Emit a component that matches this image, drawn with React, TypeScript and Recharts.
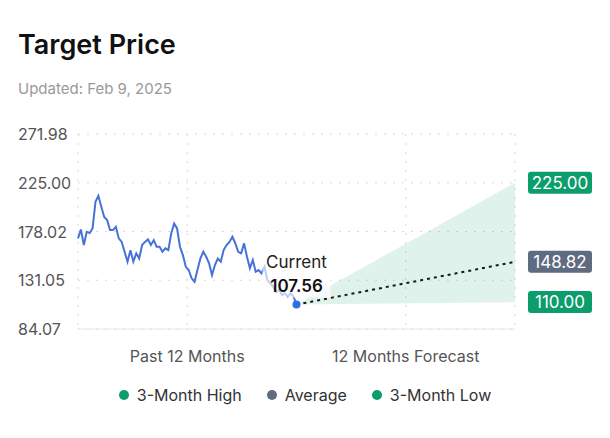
import {
  Area,
  CartesianGrid,
  ComposedChart,
  Line,
  ReferenceDot,
  XAxis,
  YAxis,
} from 'recharts'

const FONT = 'Inter, "Noto Sans", sans-serif'
const GREEN = '#0b9d6b'
const GREY = '#5f6b80'
const BLUE = '#4672d8'

// daily close over the past 12 months
const pastPrices = [
  171.4, 180, 165, 177.7, 176.5, 181, 206.6, 212.4, 201.8, 192, 189, 179.4, 179.4,
  182.5, 171.4, 168, 158.5, 148.9, 160, 149, 157, 152, 165, 168, 170.4, 165, 169.7,
  163.3, 163.3, 158.5, 161.8, 160, 176.2, 185.8, 181, 163.3, 155.3, 144, 140.9,
  132.9, 129.6, 140.9, 152, 158.5, 153.7, 147.3, 136, 145.7, 152, 148.9, 160.1, 165,
  168, 172.9, 166.6, 158.5, 157, 166.6, 153.7, 142.5, 150.5, 139.2, 140.9, 137.7,
  144, 131.2, 128.1, 124.8, 119.5, 121.6, 116.8, 118.4, 115.2, 118.4, 115.2, 107.56,
]

const currentPrice = 107.56
const targetHigh = 225.0
const targetAvg = 148.82
const targetLow = 110.0

const yTicks = [84.07, 131.05, 178.02, 225.0, 271.98]
const xLabels = ['Past 12 Months', '12 Months Forecast']

const legendItems = [
  { name: '3-Month High', color: GREEN },
  { name: 'Average', color: GREY },
  { name: '3-Month Low', color: GREEN },
]

const lastIdx = pastPrices.length - 1
const endIdx = lastIdx * 2
const xTicks = [lastIdx / 2, lastIdx * 1.5]

const chartData: Record<string, unknown>[] = pastPrices.map((v, i) => ({ x: i, price: v }))
chartData[lastIdx] = {
  ...chartData[lastIdx],
  range: [currentPrice, currentPrice],
  avg: currentPrice,
}
chartData.push({ x: endIdx, range: [targetLow, targetHigh], avg: targetAvg })

function Badge({ cx, cy, text, color }: { cx?: number; cy?: number; text: string; color: string }) {
  if (cx == null || cy == null) return null
  const w = 64
  const h = 22
  const x = cx + 13
  return (
    <g>
      <rect x={x} y={cy - h / 2} width={w} height={h} rx={3} fill={color} />
      <text
        x={x + w / 2}
        y={cy + 6}
        textAnchor="middle"
        fill="#fff"
        fontSize={17}
        fontFamily={FONT}
      >
        {text}
      </text>
    </g>
  )
}

function CurrentLabel({ cx, cy }: { cx?: number; cy?: number }) {
  if (cx == null || cy == null) return null
  return (
    <g>
      <rect x={cx - 34} y={cy - 55} width={68} height={48} fill="#fff" fillOpacity={0.65} />
      <text x={cx} y={cy - 37} textAnchor="middle" fontSize={17} fill="#222" fontFamily={FONT}>
        Current
      </text>
      <text
        x={cx}
        y={cy - 13}
        textAnchor="middle"
        fontSize={17}
        fontWeight={600}
        fill="#111"
        fontFamily={FONT}
      >
        {currentPrice.toFixed(2)}
      </text>
    </g>
  )
}

function YTick({ y, payload }: { y?: number; payload?: { value: number } }) {
  return (
    <text x={18} y={(y ?? 0) + 6} fontSize={16} fill="#555" fontFamily={FONT}>
      {payload?.value.toFixed(2)}
    </text>
  )
}

export default function App() {
  return (
    <div
      style={{
        position: 'absolute',
        left: 0,
        top: 0,
        width: 610,
        height: 438,
        background: '#fff',
        fontFamily: FONT,
      }}
    >
      <div style={{ position: 'absolute', left: 18, top: 28, fontSize: 27, fontWeight: 600, color: '#111' }}>
        Target Price
      </div>
      <div style={{ position: 'absolute', left: 18, top: 79, fontSize: 15, color: '#999' }}>
        Updated: Feb 9, 2025
      </div>

      <div style={{ position: 'absolute', left: 0, top: 110 }}>
        <ComposedChart
          width={610}
          height={270}
          data={chartData}
          margin={{ top: 24, right: 95, bottom: 11, left: 18 }}
        >
          <CartesianGrid stroke="#d9d9d9" strokeDasharray="2 7" />
          <XAxis
            dataKey="x"
            type="number"
            domain={[0, endIdx]}
            ticks={xTicks}
            tickFormatter={(_v: number, i: number) => xLabels[i]}
            tick={{ fill: '#555', fontSize: 16, fontFamily: FONT }}
            tickLine={false}
            axisLine={{ stroke: '#e6e6e6' }}
            tickMargin={16}
            height={40}
          />
          <YAxis
            type="number"
            domain={[yTicks[0], yTicks[yTicks.length - 1]]}
            ticks={yTicks}
            tick={<YTick />}
            axisLine={false}
            tickLine={false}
            width={60}
          />
          <Area
            type="linear"
            dataKey="range"
            stroke="none"
            fill={GREEN}
            fillOpacity={0.13}
            isAnimationActive={false}
            activeDot={false}
          />
          <Line
            type="linear"
            dataKey="price"
            stroke={BLUE}
            strokeWidth={2}
            dot={false}
            activeDot={false}
            isAnimationActive={false}
          />
          <Line
            type="linear"
            dataKey="avg"
            stroke="#1a1a1a"
            strokeWidth={2}
            strokeDasharray="3 4"
            dot={false}
            activeDot={false}
            isAnimationActive={false}
          />
          <ReferenceDot
            x={lastIdx}
            y={currentPrice}
            shape={(p: { cx?: number; cy?: number }) => <CurrentLabel cx={p.cx} cy={p.cy} />}
          />
          <ReferenceDot x={lastIdx} y={currentPrice} r={4} fill="#2f6fe4" stroke="none" />
          <ReferenceDot
            x={endIdx}
            y={targetHigh}
            ifOverflow="visible"
            shape={(p: { cx?: number; cy?: number }) => (
              <Badge cx={p.cx} cy={p.cy} text={targetHigh.toFixed(2)} color={GREEN} />
            )}
          />
          <ReferenceDot
            x={endIdx}
            y={targetAvg}
            ifOverflow="visible"
            shape={(p: { cx?: number; cy?: number }) => (
              <Badge cx={p.cx} cy={p.cy} text={targetAvg.toFixed(2)} color={GREY} />
            )}
          />
          <ReferenceDot
            x={endIdx}
            y={targetLow}
            ifOverflow="visible"
            shape={(p: { cx?: number; cy?: number }) => (
              <Badge cx={p.cx} cy={p.cy} text={targetLow.toFixed(2)} color={GREEN} />
            )}
          />
        </ComposedChart>
      </div>

      <div
        style={{
          position: 'absolute',
          left: 0,
          top: 385,
          width: 610,
          display: 'flex',
          justifyContent: 'center',
          gap: 25,
          fontSize: 16,
          color: '#333',
        }}
      >
        {legendItems.map((item) => (
          <div key={item.name} style={{ display: 'flex', alignItems: 'center', gap: 8 }}>
            <span
              style={{ width: 10, height: 10, borderRadius: 5, background: item.color, display: 'inline-block' }}
            />
            <span>{item.name}</span>
          </div>
        ))}
      </div>
    </div>
  )
}
